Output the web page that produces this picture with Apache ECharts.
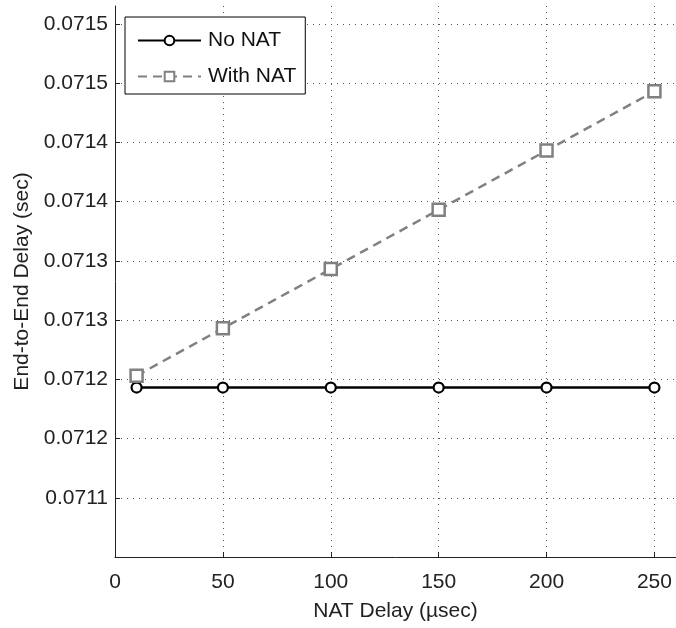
<!DOCTYPE html>
<html>
<head>
<meta charset="utf-8">
<script src="https://cdn.jsdelivr.net/npm/echarts@6/dist/echarts.min.js"></script>
<style>html,body{margin:0;padding:0;background:#fff;}#c{width:676px;height:628px;}</style>
</head>
<body>
<div id="c"></div>
<script>
const natDelay = [10, 50, 100, 150, 200, 250];
const noNat = [0.071193, 0.071193, 0.071193, 0.071193, 0.071193, 0.071193];
const withNat = [0.071203, 0.071243, 0.071293, 0.071343, 0.071393, 0.071443];
const xTickLabels = ['0', '50', '100', '150', '200', '250'];
const yTickLabels = ['0.0711', '0.0712', '0.0712', '0.0713', '0.0713', '0.0714', '0.0714', '0.0715', '0.0715'];
const yTickStart = 0.07110, yTickStep = 0.00005;

const font = 'Liberation Sans, Arial, sans-serif';
const chart = echarts.init(document.getElementById('c'), null, {renderer: 'canvas'});
chart.setOption({
  animation: false,
  backgroundColor: '#fff',
  grid: {left: 115, top: 6, right: 0, bottom: 71, containLabel: false},
  legend: {
    orient: 'vertical', left: 125, top: 17,
    backgroundColor: '#fff', borderColor: '#000', borderWidth: 1,
    padding: [13, 9, 7, 12], itemGap: 15, itemWidth: 63, itemHeight: 12,
    textStyle: {fontFamily: font, fontSize: 21, color: '#111', padding: [0, 0, 0, 2]},
    data: [{name: 'No NAT'}, {name: 'With NAT'}]
  },
  xAxis: {
    type: 'value', min: 0, max: 260, interval: 50,
    name: 'NAT Delay (\u00b5sec)', nameLocation: 'middle', nameGap: 44,
    nameTextStyle: {fontFamily: font, fontSize: 21, color: '#222'},
    axisLine: {lineStyle: {color: '#222', width: 1}},
    axisTick: {inside: true, length: 5, lineStyle: {color: '#222'}},
    axisLabel: {fontFamily: font, fontSize: 21, color: '#222', margin: 15, showMaxLabel: false,
      formatter: v => { const i = Math.round(v / 50); return (Math.abs(v - i * 50) < 1e-6 && xTickLabels[i] !== undefined) ? xTickLabels[i] : ''; }},
    splitLine: {show: true, showMinLine: false, showMaxLine: false, lineStyle: {color: '#555', type: [1, 5], width: 1}}
  },
  yAxis: {
    type: 'value', min: 0.07105, max: 0.071515, interval: 0.00005,
    name: 'End-to-End Delay (sec)', nameLocation: 'middle', nameGap: 82, nameRotate: 90,
    nameTextStyle: {fontFamily: font, fontSize: 21, color: '#222'},
    axisLine: {show: true, lineStyle: {color: '#222', width: 1}},
    axisTick: {show: true, inside: true, length: 5, lineStyle: {color: '#222'}},
    axisLabel: {fontFamily: font, fontSize: 21, color: '#222', margin: 7, showMinLabel: false, showMaxLabel: false,
      formatter: v => { const i = Math.round((v - yTickStart) / yTickStep); return (Math.abs(v - (yTickStart + i * yTickStep)) < 1e-9 && yTickLabels[i] !== undefined) ? yTickLabels[i] : ''; }},
    splitLine: {show: true, showMinLine: false, showMaxLine: false, lineStyle: {color: '#555', type: [1, 5], width: 1}}
  },
  series: [
    {
      name: 'No NAT', type: 'line', data: natDelay.map((x, i) => [x, noNat[i]]),
      symbol: 'circle', symbolSize: 10, showAllSymbol: true,
      lineStyle: {color: '#000', width: 2.5},
      itemStyle: {color: '#fff', borderColor: '#000', borderWidth: 2.2},
      z: 3
    },
    {
      name: 'With NAT', type: 'line', data: natDelay.map((x, i) => [x, withNat[i]]),
      symbol: 'rect', symbolSize: 12, showAllSymbol: true,
      lineStyle: {color: '#808080', width: 2.5, type: [9, 6]},
      itemStyle: {color: '#fff', borderColor: '#808080', borderWidth: 2.5},
      z: 4
    }
  ]
});
</script>
</body>
</html>
